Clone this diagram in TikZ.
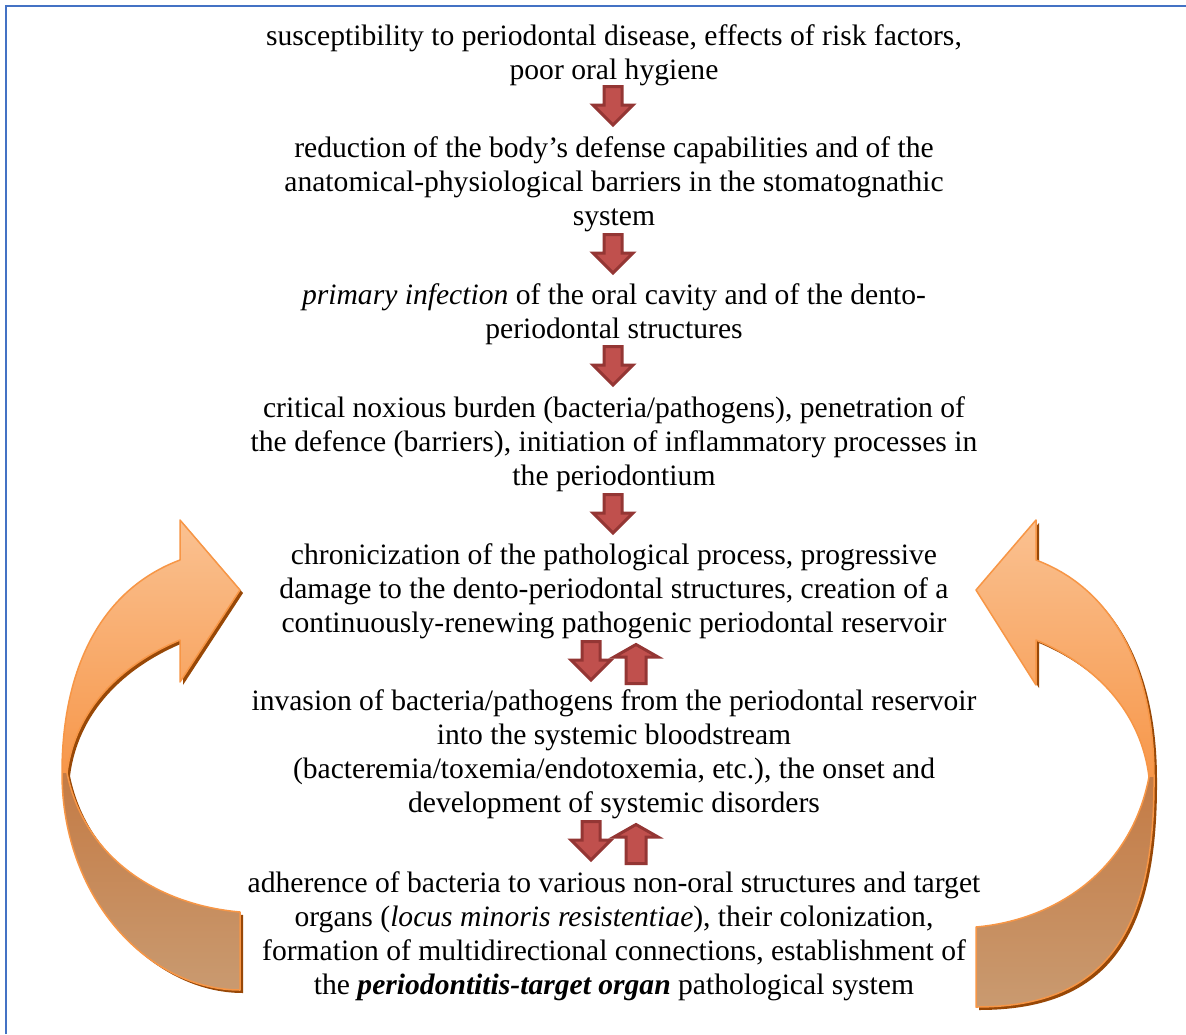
\documentclass[tikz,border=0pt]{standalone}
\usepackage{fontspec}
\setmainfont{Liberation Serif}
\definecolor{frameblue}{HTML}{4472C4}
\definecolor{arrowfill}{HTML}{C0504D}
\definecolor{arrowedge}{HTML}{943634}
\definecolor{orLight}{HTML}{FAC191}
\definecolor{orMid}{HTML}{F7974A}
\definecolor{brTop}{HTML}{C47B45}
\definecolor{brBot}{HTML}{C99A70}
\definecolor{shadowbrown}{HTML}{984807}
\definecolor{edgeor}{HTML}{F79646}
\begin{document}
\begin{tikzpicture}[x=1pt,y=-1pt,
  txt/.style={align=center, font=\fontsize{29.6}{33.8}\selectfont, inner sep=0pt, anchor=base},
  redarrow/.style={fill=arrowfill, draw=arrowedge, line width=3pt, line join=miter},
  pics/downarrow/.style={code={
    \draw[redarrow] (-9,1.5) -- (9,1.5) -- (9,20) -- (20,20) -- (0,40) -- (-20,20) -- (-9,20) -- cycle;}},
  pics/uparrow/.style={code={
    \draw[redarrow] (-10,40.5) -- (10,40.5) -- (10,14) -- (22,14) -- (0,1.5) -- (-22,14) -- (-10,14) -- cycle;}},
  shadowfill/.style={fill=shadowbrown, shift={(3,3)}},
  edgeline/.style={draw=edgeor, line width=1.5pt, line join=round},
  upshade/.style={top color=orLight, bottom color=orMid},
  lowshade/.style={top color=brTop, bottom color=brBot}
]
\useasboundingbox (0,0) rectangle (1186,1034);
\fill[white] (0,0) rectangle (1186,1034);
\draw[frameblue, line width=1.5pt] (6,1034) -- (6,6) -- (1186,6);

% ---------- left curved arrow ----------
\fill[shadowfill] (240,590) -- (180,520) -- (180,560) .. controls (100,590) and (62,670) .. (62,773)
  .. controls (62,900) and (150,990) .. (240,990) -- (240,912)
  .. controls (160,905) and (85,860) .. (67,773) .. controls (75,710) and (120,665) .. (180,640)
  -- (180,682) -- cycle;
\shade[upshade] (240,590) -- (180,520) -- (180,560) .. controls (100,590) and (62,670) .. (62,773)
  -- (67,773) .. controls (75,710) and (120,665) .. (180,640) -- (180,682) -- cycle;
\shade[lowshade] (62,773) .. controls (62,900) and (150,990) .. (240,990) -- (240,912)
  .. controls (160,905) and (85,860) .. (67,773) -- cycle;
\draw[edgeline] (240,590) -- (180,520) -- (180,560) .. controls (100,590) and (62,670) .. (62,773)
  .. controls (62,900) and (150,990) .. (240,990) -- (240,912)
  .. controls (160,905) and (85,860) .. (67,773) .. controls (75,710) and (120,665) .. (180,640)
  -- (180,682) -- cycle;

% ---------- right curved arrow ----------
\fill[shadowfill] (976,590) -- (1036,520) -- (1036,560) .. controls (1116,590) and (1154,672) .. (1154,777)
  .. controls (1155,940) and (1100,1007) .. (976,1007) -- (976,927)
  .. controls (1056,920) and (1131,870) .. (1149,777) .. controls (1141,712) and (1096,665) .. (1036,640)
  -- (1036,685) -- cycle;
\shade[upshade] (976,590) -- (1036,520) -- (1036,560) .. controls (1116,590) and (1154,672) .. (1154,777)
  -- (1149,777) .. controls (1141,712) and (1096,665) .. (1036,640) -- (1036,685) -- cycle;
\shade[lowshade] (1154,777) .. controls (1155,940) and (1100,1007) .. (976,1007) -- (976,927)
  .. controls (1056,920) and (1131,870) .. (1149,777) -- cycle;
\draw[edgeline] (976,590) -- (1036,520) -- (1036,560) .. controls (1116,590) and (1154,672) .. (1154,777)
  .. controls (1155,940) and (1100,1007) .. (976,1007) -- (976,927)
  .. controls (1056,920) and (1131,870) .. (1149,777) .. controls (1141,712) and (1096,665) .. (1036,640)
  -- (1036,685) -- cycle;

% ---------- texts (anchor = baseline of last line) ----------
\node[txt] (t1) at (614,79) {susceptibility to periodontal disease, effects of risk factors,\\poor oral hygiene};
\node[txt] (t2) at (614,225) {reduction of the body's defense capabilities and of the\\anatomical-physiological barriers in the stomatognathic\\system};
\node[txt] (t3) at (614,338) {\textit{primary infection} of the oral cavity and of the dento-\\periodontal structures};
\node[txt] (t4) at (614,485) {critical noxious burden (bacteria/pathogens), penetration of\\the defence (barriers), initiation of inflammatory processes in\\the periodontium};
\node[txt] (t5) at (614,632) {chronicization of the pathological process, progressive\\damage to the dento-periodontal structures, creation of a\\continuously-renewing pathogenic periodontal reservoir};
\node[txt] (t6) at (614,812) {invasion of bacteria/pathogens from the periodontal reservoir\\into the systemic bloodstream\\(bacteremia/toxemia/endotoxemia, etc.), the onset and\\development of systemic disorders};
\node[txt] (t7) at (614,994) {adherence of bacteria to various non-oral structures and target\\organs (\textit{locus minoris resistentiae}), their colonization,\\formation of multidirectional connections, establishment of\\the \textbf{\textit{periodontitis-target organ}} pathological system};

% ---------- block arrows ----------
\coordinate (a1) at (613,85);
\coordinate (a2) at (613,233);
\coordinate (a3) at (613,345);
\coordinate (a4) at (613,493);
\coordinate (a5d) at (591,640);
\coordinate (a5u) at (636,643);
\coordinate (a6d) at (591,820);
\coordinate (a6u) at (636,823);
\pic at (a1) {downarrow};
\pic at (a2) {downarrow};
\pic at (a3) {downarrow};
\pic at (a4) {downarrow};
\pic at (a5d) {downarrow};
\pic at (a5u) {uparrow};
\pic at (a6d) {downarrow};
\pic at (a6u) {uparrow};
\end{tikzpicture}
\end{document}
